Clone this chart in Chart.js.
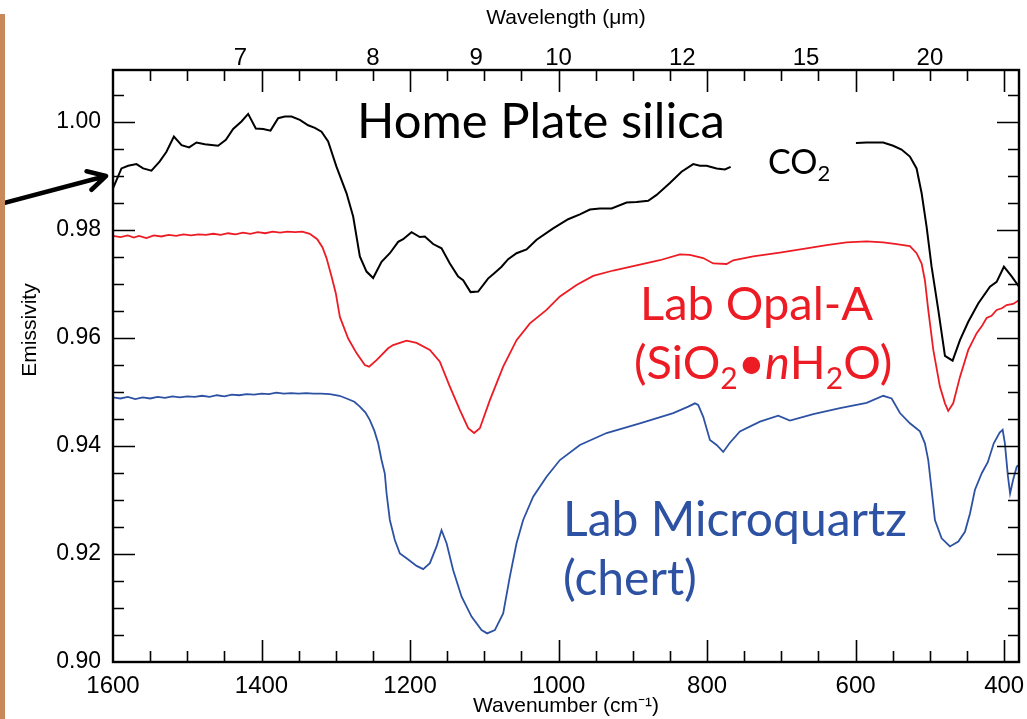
<!DOCTYPE html>
<html>
<head>
<meta charset="utf-8">
<script src="https://cdn.jsdelivr.net/npm/chart.js@4.4.1/dist/chart.umd.min.js"></script>
<style>
  html, body { margin: 0; padding: 0; background: #fff; }
  #wrap { position: relative; width: 1027px; height: 719px; }
  #edge { position: absolute; left: 0; top: 14px; width: 5px; height: 705px; background: #c8895a; }
</style>
</head>
<body>
<div id="wrap"><canvas id="c" width="1027" height="719"></canvas><div id="edge"></div></div>
<script>
// --- data (wavenumber cm-1 / emissivity) ---
const homePlateWn = [1600, 1588.6, 1579.6, 1568.4, 1559.4, 1548.2, 1537, 1528, 1518, 1507.7, 1497.5, 1487.5, 1476.4, 1458.5, 1448, 1438.2, 1427, 1418, 1407.7, 1397.8, 1387.9, 1377.6, 1368.6, 1359.6, 1348.4, 1337.2, 1328.2, 1319.2, 1310.3, 1299, 1285.5, 1276.6, 1267.6, 1258.6, 1249.7, 1238.4, 1227.2, 1216, 1209.3, 1198, 1186.8, 1180.1, 1168.9, 1157.6, 1146.4, 1135.2, 1128.5, 1118.5, 1108.3, 1095, 1085.8, 1076.8, 1067.9, 1056.6, 1043.1, 1029.6, 1007.3, 987.1, 971.3, 957.8, 944.4, 928.6, 908.4, 895, 879.3, 868, 850.1, 834.4, 818.7, 809.7, 800.7, 787.2, 776, 768.3, 700, 599.6, 585.2, 562.8, 549.4, 538.2, 526.9, 517.9, 511.1, 504.4, 497.7, 488.7, 479.7, 469.4, 459.5, 448.3, 434.9, 419.1, 410.1, 400.3, 389.9, 380];
const homePlateEm = [0.9877, 0.9914, 0.9919, 0.9922, 0.9914, 0.9910, 0.9927, 0.9945, 0.9973, 0.9957, 0.9953, 0.9962, 0.9959, 0.9956, 0.9967, 0.9987, 1.0001, 1.0015, 0.9988, 0.9987, 0.9984, 1.0007, 1.0010, 1.0010, 1.0004, 0.9994, 0.9989, 0.9982, 0.9964, 0.9917, 0.9868, 0.9825, 0.9751, 0.9723, 0.9711, 0.9741, 0.9757, 0.9778, 0.9783, 0.9796, 0.9787, 0.9788, 0.9774, 0.9766, 0.9738, 0.9714, 0.9707, 0.9685, 0.9686, 0.9710, 0.9721, 0.9732, 0.9746, 0.9757, 0.9764, 0.9782, 0.9803, 0.9820, 0.9829, 0.9838, 0.9840, 0.9840, 0.9851, 0.9852, 0.9854, 0.9865, 0.9887, 0.9908, 0.9922, 0.9919, 0.9919, 0.9914, 0.9912, 0.9917, null, 0.9961, 0.9962, 0.9962, 0.9956, 0.9949, 0.9936, 0.9914, 0.9868, 0.9806, 0.9732, 0.9652, 0.9567, 0.9558, 0.9596, 0.9630, 0.9664, 0.9695, 0.9704, 0.9732, 0.9714, 0.9695];

const opalWn = [1600, 1590, 1580, 1572, 1565, 1555, 1545, 1535, 1525, 1515, 1505, 1495, 1485, 1475, 1465, 1455, 1445, 1435, 1425, 1415, 1405, 1395, 1385, 1375, 1365, 1355, 1345, 1335, 1325, 1318, 1312.5, 1305.7, 1300, 1294.5, 1283.3, 1272.1, 1260.9, 1255.1, 1245.1, 1229.5, 1222.8, 1213.7, 1204.7, 1191.2, 1173.3, 1159.9, 1146.4, 1133, 1121.7, 1113.7, 1106, 1092.5, 1074.6, 1056.6, 1038.6, 1016.2, 998.2, 975.8, 953.4, 926.4, 899.5, 863.6, 836.6, 823.2, 805.2, 791.8, 773.8, 764.8, 737.9, 702, 666, 639.1, 612.2, 585.2, 562.8, 544.8, 526.9, 517.9, 511.1, 506.7, 502.2, 495.4, 486.5, 479.7, 475.3, 468.6, 459.5, 448.3, 437, 430, 423.6, 417, 410.1, 403, 396.7, 388, 380];
const opalEm = [0.9789, 0.9787, 0.9790, 0.9786, 0.9789, 0.9785, 0.9790, 0.9788, 0.9791, 0.9789, 0.9792, 0.9790, 0.9792, 0.9791, 0.9793, 0.9791, 0.9794, 0.9792, 0.9795, 0.9793, 0.9796, 0.9794, 0.9797, 0.9795, 0.9797, 0.9796, 0.9797, 0.9793, 0.9783, 0.9768, 0.9748, 0.9714, 0.9683, 0.9639, 0.9599, 0.9572, 0.9550, 0.9547, 0.9559, 0.9581, 0.9587, 0.9591, 0.9595, 0.9591, 0.9578, 0.9556, 0.9510, 0.9467, 0.9433, 0.9424, 0.9433, 0.9485, 0.9547, 0.9596, 0.9627, 0.9652, 0.9677, 0.9698, 0.9715, 0.9725, 0.9733, 0.9744, 0.9755, 0.9754, 0.9748, 0.9738, 0.9737, 0.9744, 0.9751, 0.9758, 0.9766, 0.9772, 0.9777, 0.9779, 0.9777, 0.9774, 0.9770, 0.9757, 0.9738, 0.9707, 0.9652, 0.9578, 0.9510, 0.9479, 0.9465, 0.9479, 0.9528, 0.9578, 0.9609, 0.9622, 0.9637, 0.9641, 0.9652, 0.9655, 0.9661, 0.9663, 0.9670];

const chertWn = [1600, 1590, 1580, 1570, 1560, 1550, 1540, 1530, 1520, 1510, 1500, 1490, 1480, 1470, 1460, 1450, 1440, 1430, 1420, 1410, 1400, 1390, 1380, 1370, 1360, 1350, 1340, 1330, 1320, 1308, 1295, 1285.5, 1275, 1267.6, 1260, 1254.1, 1248, 1242.9, 1238.4, 1234, 1231.6, 1227.2, 1220.5, 1213.7, 1204.7, 1191.2, 1182.3, 1173.3, 1164.3, 1157.6, 1150.8, 1141.9, 1130.6, 1117.2, 1103.7, 1096.2, 1085.8, 1074.6, 1065.6, 1056.6, 1047.7, 1034.2, 1016.2, 998.2, 971.3, 935.4, 890.5, 845.6, 825.4, 816.4, 812, 805.2, 796.2, 787.2, 778.3, 769.3, 755.8, 728.9, 704.2, 688.5, 657, 621.1, 585.2, 562.8, 551.5, 540.3, 526.9, 513.4, 506.7, 502.2, 497.7, 493.2, 484.2, 473, 461.7, 452.8, 446, 439.3, 430, 422, 414, 406, 402, 399, 395, 392, 388, 383, 380];
const chertEm = [0.9490, 0.9488, 0.9491, 0.9487, 0.9490, 0.9488, 0.9491, 0.9489, 0.9492, 0.9490, 0.9492, 0.9491, 0.9493, 0.9491, 0.9494, 0.9492, 0.9495, 0.9494, 0.9496, 0.9495, 0.9497, 0.9496, 0.9499, 0.9497, 0.9498, 0.9497, 0.9498, 0.9497, 0.9497, 0.9496, 0.9493, 0.9488, 0.9482, 0.9473, 0.9462, 0.9448, 0.9428, 0.9405, 0.9374, 0.9349, 0.9312, 0.9263, 0.9226, 0.9201, 0.9192, 0.9178, 0.9172, 0.9183, 0.9214, 0.9244, 0.9220, 0.9170, 0.9121, 0.9084, 0.9059, 0.9053, 0.9059, 0.9090, 0.9158, 0.9220, 0.9263, 0.9306, 0.9343, 0.9374, 0.9402, 0.9424, 0.9442, 0.9461, 0.9473, 0.9479, 0.9476, 0.9454, 0.9411, 0.9402, 0.9389, 0.9406, 0.9427, 0.9445, 0.9456, 0.9447, 0.9459, 0.9470, 0.9480, 0.9493, 0.9488, 0.9461, 0.9442, 0.9427, 0.9405, 0.9374, 0.9319, 0.9263, 0.9229, 0.9214, 0.9223, 0.9241, 0.9275, 0.9319, 0.9350, 0.9370, 0.9405, 0.9425, 0.9430, 0.9405, 0.9345, 0.9312, 0.9337, 0.9362, 0.9365];

// axis ticks
const wnTicks = [1600, 1400, 1200, 1000, 800, 600, 400];
const wavelengthTicks = [7, 8, 9, 10, 12, 15, 20];
const emTicks = [0.90, 0.92, 0.94, 0.96, 0.98, 1.00];

const axisFont = "'Liberation Sans', Arial, sans-serif";
const noteFont = "Lato, 'Open Sans', sans-serif";
const RED = '#ed1c24';
const BLUE = '#2e52a3';

const pts = (wn, em) => wn.map((w, i) => ({ x: w, y: em[i] }));

// fixed axis box sizes, no extra room for overhanging labels
const fixBox = (prop, v) => s => {
  s[prop] = v;
  s.paddingLeft = 0; s.paddingRight = 0; s.paddingTop = 0; s.paddingBottom = 0;
};

// frame with inward tick marks on all four sides
const framePlugin = {
  id: 'frame',
  afterDatasetsDraw(chart) {
    const { ctx, chartArea: a, scales: { x, y } } = chart;
    ctx.save();
    ctx.strokeStyle = '#000';
    ctx.lineWidth = 1.6;
    ctx.beginPath();
    for (let v = 400; v < 1600; v += 50) {
      const px = Math.round(x.getPixelForValue(v)) + 0.5;
      const len = v % 200 === 0 ? 22 : 11;
      ctx.moveTo(px, a.bottom); ctx.lineTo(px, a.bottom - len);
      ctx.moveTo(px, a.top); ctx.lineTo(px, a.top + len);
    }
    for (let i = 1; i <= 21; i++) {
      const py = Math.round(y.getPixelForValue(0.9 + i * 0.005)) + 0.5;
      if (py <= a.top) continue;
      const len = i % 4 === 0 ? 22 : 11;
      ctx.moveTo(a.left, py); ctx.lineTo(a.left + len, py);
      ctx.moveTo(a.right, py); ctx.lineTo(a.right - len, py);
    }
    ctx.stroke();
    ctx.lineWidth = 2.4;
    ctx.strokeRect(a.left, a.top, a.right - a.left, a.bottom - a.top);
    ctx.restore();
  }
};

// text labels on the plot + arrow
const notes = [
  { x: 357, y: 138, size: 49, color: '#000', parts: [{ t: 'Home Plate silica' }] },
  { x: 768, y: 174, size: 34, color: '#000', parts: [{ t: 'CO' }, { t: '2', sub: true }] },
  { x: 640, y: 320, size: 47, color: RED, parts: [{ t: 'Lab Opal-A' }] },
  { x: 634, y: 379, size: 47, color: RED, parts: [{ t: '(SiO' }, { t: '2', sub: true }, { t: '•' }, { t: 'n', it: true }, { t: 'H' }, { t: '2', sub: true }, { t: 'O)' }] },
  { x: 563, y: 536, size: 48, color: BLUE, parts: [{ t: 'Lab Microquartz' }] },
  { x: 563, y: 595, size: 48, color: BLUE, parts: [{ t: '(chert)' }] }
];

const notesPlugin = {
  id: 'notes',
  afterDraw(chart) {
    const ctx = chart.ctx;
    ctx.save();
    ctx.textBaseline = 'alphabetic';
    ctx.textAlign = 'left';
    for (const n of notes) {
      let cx = n.x;
      for (const p of n.parts) {
        const s = p.sub ? Math.round(n.size * 0.64) : n.size;
        ctx.font = (p.it ? 'italic ' : '') + s + 'px ' + noteFont;
        ctx.fillStyle = n.color;
        ctx.fillText(p.t, cx, n.y + (p.sub ? n.size * 0.22 : 0));
        cx += ctx.measureText(p.t).width;
      }
    }
    // y axis title, sits a bit above the plot centre in the reference
    ctx.save();
    ctx.translate(30, 330);
    ctx.rotate(-Math.PI / 2);
    ctx.textAlign = 'center';
    ctx.textBaseline = 'middle';
    ctx.font = '21px ' + axisFont;
    ctx.fillStyle = '#000';
    ctx.fillText('Emissivity', 0, 0);
    ctx.restore();
    // arrow pointing at the start of the Home Plate spectrum
    const tipX = chart.chartArea.left - 7, tipY = 176;
    const tailX = 0, tailY = 204;
    const ang = Math.atan2(tipY - tailY, tipX - tailX);
    ctx.strokeStyle = '#000';
    ctx.lineWidth = 4.5;
    ctx.lineCap = 'round';
    ctx.lineJoin = 'round';
    ctx.beginPath();
    ctx.moveTo(tailX, tailY); ctx.lineTo(tipX, tipY);
    ctx.moveTo(tipX - 20 * Math.cos(ang - 0.5), tipY - 20 * Math.sin(ang - 0.5));
    ctx.lineTo(tipX, tipY);
    ctx.lineTo(tipX - 20 * Math.cos(ang + 0.5), tipY - 20 * Math.sin(ang + 0.5));
    ctx.stroke();
    ctx.restore();
  }
};

new Chart(document.getElementById('c'), {
  type: 'line',
  data: {
    datasets: [
      { label: 'Home Plate silica', data: pts(homePlateWn, homePlateEm), borderColor: '#000', borderWidth: 2, spanGaps: false },
      { label: 'Lab Opal-A', data: pts(opalWn, opalEm), borderColor: RED, borderWidth: 1.8 },
      { label: 'Lab Microquartz', data: pts(chertWn, chertEm), borderColor: BLUE, borderWidth: 1.8 }
    ]
  },
  options: {
    responsive: false,
    animation: false,
    layout: { padding: { left: 0, right: 8, top: 0, bottom: 0 } },
    elements: { point: { radius: 0 }, line: { tension: 0, fill: false } },
    plugins: { legend: { display: false }, tooltip: { enabled: false } },
    scales: {
      x: {
        type: 'linear', position: 'bottom', reverse: true, min: 380, max: 1600,
        afterBuildTicks: s => { s.ticks = wnTicks.map(v => ({ value: v })); },
        afterFit: fixBox('height', 57),
        grid: { display: false, drawTicks: false }, border: { display: false },
        ticks: { autoSkip: false, maxRotation: 0, padding: 12, color: '#000', callback: v => String(v),
                 font: { family: axisFont, size: 24, lineHeight: 1 } },
        title: { display: true, text: 'Wavenumber (cm⁻¹)', color: '#000',
                 font: { family: axisFont, size: 21, lineHeight: 1.1 }, padding: { top: 0, bottom: 1 } }
      },
      x2: {
        type: 'linear', position: 'top', reverse: true, min: 380, max: 1600,
        afterBuildTicks: s => { s.ticks = wavelengthTicks.map(l => ({ value: 10000 / l })); },
        afterFit: fixBox('height', 70),
        grid: { display: false, drawTicks: false }, border: { display: false },
        ticks: { autoSkip: false, maxRotation: 0, padding: 0, color: '#000', callback: v => String(Math.round(10000 / v)),
                 font: { family: axisFont, size: 24, lineHeight: 1 } },
        title: { display: true, text: 'Wavelength (μm)', color: '#000',
                 font: { family: axisFont, size: 21, lineHeight: 1.2 }, padding: { top: 6, bottom: 0 } }
      },
      y: {
        type: 'linear', position: 'left', min: 0.9, max: 1.00963,
        afterBuildTicks: s => { s.ticks = emTicks.map(v => ({ value: v })); },
        afterFit: fixBox('width', 113),
        grid: { display: false, drawTicks: false }, border: { display: false },
        ticks: { autoSkip: false, padding: 12, color: '#000', callback: v => v.toFixed(2),
                 font: { family: axisFont, size: 23 } },
        title: { display: false }
      }
    }
  },
  plugins: [framePlugin, notesPlugin]
});
</script>
</body>
</html>
